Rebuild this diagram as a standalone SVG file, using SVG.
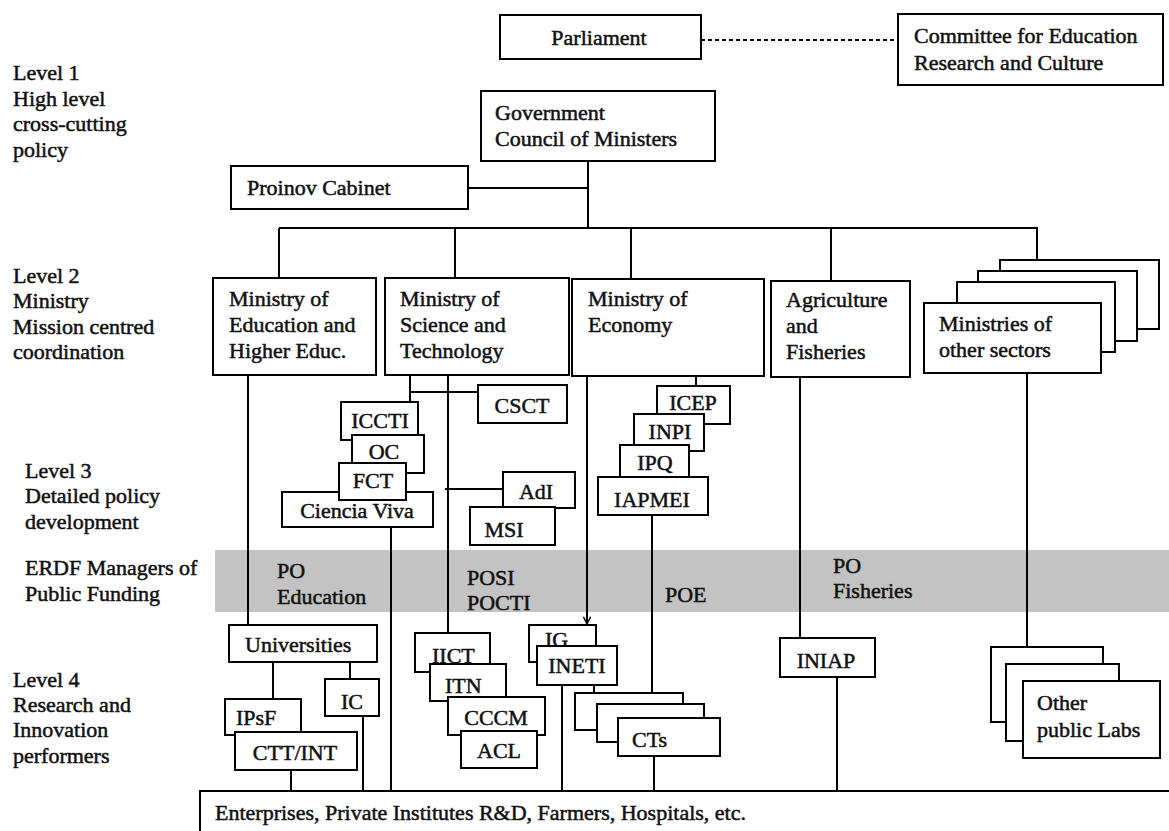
<svg xmlns="http://www.w3.org/2000/svg" width="1169" height="831" viewBox="0 0 1169 831">
<defs>
<style>
.b{fill:#fff;stroke:#000;stroke-width:2}
.l{fill:none;stroke:#000;stroke-width:2}
text{font-family:"Liberation Serif","Times New Roman",serif;font-size:22px;fill:#111;stroke:#111;stroke-width:0.5}
.m{text-anchor:middle}
</style>
<marker id="vee" viewBox="0 0 10 10" refX="9" refY="5" markerWidth="9" markerHeight="9" markerUnits="userSpaceOnUse" orient="auto">
<path d="M1,1 L9,5 L1,9" fill="none" stroke="#000" stroke-width="1.6"/>
</marker>
</defs>
<rect width="1169" height="831" fill="#fff"/>
<rect id="band" x="215" y="550" width="954" height="62" fill="#c3c3c3"/>

<g id="labels">
<text x="13" y="80">Level 1</text>
<text x="13" y="106">High level</text>
<text x="13" y="131">cross-cutting</text>
<text x="13" y="157">policy</text>
<text x="13" y="283">Level 2</text>
<text x="13" y="308">Ministry</text>
<text x="13" y="334">Mission centred</text>
<text x="13" y="359">coordination</text>
<text x="25" y="478">Level 3</text>
<text x="25" y="503">Detailed policy</text>
<text x="25" y="529">development</text>
<text x="25" y="575">ERDF Managers of</text>
<text x="25" y="601">Public Funding</text>
<text x="13" y="687">Level 4</text>
<text x="13" y="712">Research and</text>
<text x="13" y="737">Innovation</text>
<text x="13" y="763">performers</text>
<text x="277" y="578">PO</text>
<text x="277" y="604">Education</text>
<text x="467" y="585">POSI</text>
<text x="467" y="610">POCTI</text>
<text x="665" y="602">POE</text>
<text x="833" y="573">PO</text>
<text x="833" y="598">Fisheries</text>
</g>

<g id="connectors">
<line class="l" x1="701" y1="40" x2="898" y2="40" stroke-dasharray="4 3"/>
<path class="l" d="M588,161 V228 M468,188 H588 M279,228 H1037 V260 M279,228 V278 M455,228 V278 M631,228 V279 M831,228 V281"/>
<path class="l" d="M248,375 V625 M410,375 V402 M410,392 H478 M448,375 V633 M445,489 H503 M391,527 V791 M696,376 V386 M652,515 V693 M800,377 V638 M1027,373 V647"/>
<path class="l" d="M587,376 V624" marker-end="url(#vee)"/>
<path class="l" d="M273,662 V699 M350,662 V679 M363,716 V791 M291,770 V791 M562,685 V791 M594,685 V693 M654,756 V791 M837,677 V791"/>
</g>

<g id="parliament"><rect class="b" x="500" y="15" width="201" height="44"/><text class="m" x="599" y="45">Parliament</text></g>
<g id="committee"><rect class="b" x="898" y="14" width="265" height="71"/><text x="914" y="43">Committee for Education</text><text x="914" y="70">Research and Culture</text></g>
<g id="government"><rect class="b" x="481" y="91" width="234" height="70"/><text x="495" y="120">Government</text><text x="495" y="146">Council of Ministers</text></g>
<g id="proinov"><rect class="b" x="231" y="166" width="237" height="43"/><text x="247" y="195">Proinov Cabinet</text></g>

<g id="min-education"><rect class="b" x="213" y="278" width="163" height="97"/><text x="229" y="306">Ministry of</text><text x="229" y="332">Education and</text><text x="229" y="358">Higher Educ.</text></g>
<g id="min-science"><rect class="b" x="385" y="278" width="184" height="97"/><text x="400" y="306">Ministry of</text><text x="400" y="332">Science and</text><text x="400" y="358">Technology</text></g>
<g id="min-economy"><rect class="b" x="572" y="279" width="192" height="97"/><text x="588" y="306">Ministry of</text><text x="588" y="332">Economy</text></g>
<g id="min-agriculture"><rect class="b" x="771" y="281" width="139" height="96"/><text x="786" y="307">Agriculture</text><text x="786" y="333">and</text><text x="786" y="359">Fisheries</text></g>
<g id="min-other"><rect class="b" x="1000" y="260" width="159" height="69"/><rect class="b" x="978" y="271" width="159" height="70"/><rect class="b" x="957" y="282" width="158" height="70"/><rect class="b" x="924" y="303" width="177" height="70"/><text x="939" y="331">Ministries of</text><text x="939" y="357">other sectors</text></g>

<g id="csct"><rect class="b" x="478" y="385" width="89" height="38"/><text class="m" x="522" y="413">CSCT</text></g>
<g id="iccti"><rect class="b" x="341" y="402" width="77" height="38"/><text class="m" x="380" y="428">ICCTI</text></g>
<g id="oc"><rect class="b" x="352" y="435" width="72" height="38"/><text class="m" x="384" y="459">OC</text></g>
<g id="ciencia-viva"><rect class="b" x="282" y="492" width="151" height="35"/><text class="m" x="357" y="518">Ciencia Viva</text></g>
<g id="fct"><rect class="b" x="339" y="463" width="67" height="37"/><text class="m" x="373" y="488">FCT</text></g>
<g id="adi"><rect class="b" x="503" y="472" width="72" height="36"/><text class="m" x="536" y="499">AdI</text></g>
<g id="msi"><rect class="b" x="470" y="507" width="85" height="38"/><text class="m" x="504" y="537">MSI</text></g>
<g id="icep"><rect class="b" x="657" y="386" width="73" height="38"/><text class="m" x="693" y="410">ICEP</text></g>
<g id="inpi"><rect class="b" x="634" y="414" width="70" height="37"/><text class="m" x="670" y="439">INPI</text></g>
<g id="ipq"><rect class="b" x="620" y="445" width="69" height="36"/><text class="m" x="655" y="470">IPQ</text></g>
<g id="iapmei"><rect class="b" x="598" y="477" width="110" height="38"/><text class="m" x="652" y="507">IAPMEI</text></g>

<g id="universities"><rect class="b" x="229" y="625" width="148" height="37"/><text x="245" y="652">Universities</text></g>
<g id="ic"><rect class="b" x="325" y="679" width="54" height="37"/><text class="m" x="352" y="709">IC</text></g>
<g id="ipsf"><rect class="b" x="225" y="699" width="76" height="36"/><text x="236" y="725">IPsF</text></g>
<g id="ctt-int"><rect class="b" x="235" y="732" width="122" height="38"/><text class="m" x="295" y="760">CTT/INT</text></g>
<g id="iict"><rect class="b" x="415" y="633" width="75" height="39"/><text x="432" y="663">IICT</text></g>
<g id="itn"><rect class="b" x="430" y="664" width="76" height="37"/><text x="445" y="693">ITN</text></g>
<g id="cccm"><rect class="b" x="448" y="697" width="97" height="38"/><text class="m" x="496" y="725">CCCM</text></g>
<g id="acl"><rect class="b" x="461" y="731" width="76" height="37"/><text class="m" x="499" y="758">ACL</text></g>
<g id="ig"><rect class="b" x="529" y="625" width="67" height="37"/><text x="545" y="647">IG</text></g>
<g id="ineti"><rect class="b" x="537" y="646" width="80" height="39"/><text class="m" x="577" y="673">INETI</text></g>
<g id="cts"><rect class="b" x="575" y="693" width="108" height="37"/><rect class="b" x="597" y="704" width="107" height="38"/><rect class="b" x="618" y="718" width="102" height="38"/><text x="632" y="747">CTs</text></g>
<g id="iniap"><rect class="b" x="780" y="638" width="95" height="39"/><text class="m" x="826" y="668">INIAP</text></g>
<g id="other-labs"><rect class="b" x="991" y="647" width="112" height="75"/><rect class="b" x="1006" y="664" width="113" height="77"/><rect class="b" x="1023" y="681" width="137" height="77"/><text x="1037" y="710">Other</text><text x="1037" y="737">public Labs</text></g>

<g id="enterprises"><path class="l" d="M1169,791 H200 V831"/><text x="215" y="820">Enterprises, Private Institutes R&amp;D, Farmers, Hospitals, etc.</text></g>
</svg>
